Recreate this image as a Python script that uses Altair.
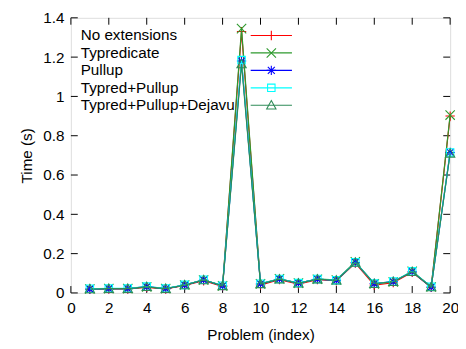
import altair as alt
import pandas as pd

problems = list(range(1, 21))
series_names = ["No extensions", "Typredicate", "Pullup", "Typred+Pullup", "Typred+Pullup+Dejavu"]
no_ext = [0.018, 0.02, 0.02, 0.028, 0.02, 0.038, 0.062, 0.033, 1.33, 0.04, 0.068, 0.045, 0.068, 0.062, 0.152, 0.04, 0.052, 0.105, 0.028, 0.90]
typred = [0.02, 0.022, 0.022, 0.03, 0.022, 0.04, 0.066, 0.036, 1.345, 0.046, 0.072, 0.05, 0.07, 0.066, 0.158, 0.046, 0.056, 0.11, 0.03, 0.905]
pullup = [0.02, 0.022, 0.022, 0.032, 0.022, 0.04, 0.066, 0.036, 1.18, 0.046, 0.07, 0.05, 0.07, 0.064, 0.155, 0.048, 0.058, 0.108, 0.03, 0.715]
typred_pullup = [0.021, 0.023, 0.023, 0.032, 0.023, 0.041, 0.067, 0.037, 1.185, 0.047, 0.071, 0.05, 0.071, 0.065, 0.156, 0.048, 0.058, 0.11, 0.031, 0.715]
typred_pullup_dejavu = [0.02, 0.022, 0.022, 0.031, 0.022, 0.04, 0.066, 0.036, 1.165, 0.046, 0.07, 0.049, 0.07, 0.064, 0.155, 0.047, 0.057, 0.108, 0.03, 0.71]
all_values = [no_ext, typred, pullup, typred_pullup, typred_pullup_dejavu]
colors = ["#ff0000", "#2e9a2e", "#0000ff", "#00ffff", "#2e8b57"]
shapes = [
    "M-1,0H1M0,-1V1",
    "M-1,-1L1,1M-1,1L1,-1",
    "M-1,0H1M0,-1V1M-0.75,-0.75L0.75,0.75M-0.75,0.75L0.75,-0.75",
    "M-0.8,-0.8H0.8V0.8H-0.8Z",
    "M0,-1L1,0.8H-1Z",
]
x_ticks = list(range(0, 21, 2))
y_ticks = [0, 0.2, 0.4, 0.6, 0.8, 1.0, 1.2, 1.4]

W, H = 386, 280
FONT = "Liberation Sans"
FS = 15.5

rows = []
for name, vals in zip(series_names, all_values):
    for p, v in zip(problems, vals):
        rows.append({"problem": p, "time": v, "series": name})
df = pd.DataFrame(rows)

color_scale = alt.Scale(domain=series_names, range=colors)
shape_scale = alt.Scale(domain=series_names, range=shapes)
xs = alt.Scale(domain=[0, 20], nice=False)
ys = alt.Scale(domain=[0, 1.4], nice=False)

AX_X = alt.Axis(values=x_ticks, ticks=False, domain=False, grid=False,
                labelFont=FONT, labelFontSize=FS, labelPadding=8, labelColor="black",
                labelOverlap=False, labelFlush=False,
                titleFont=FONT, titleFontSize=FS, titleFontWeight="normal", titlePadding=12,
                titleColor="black")
AX_Y = alt.Axis(values=y_ticks, format=".1~f", ticks=False, domain=False, grid=False,
                labelFont=FONT, labelFontSize=FS, labelPadding=7, labelColor="black",
                labelOverlap=False, labelFlush=False,
                titleFont=FONT, titleFontSize=FS, titleFontWeight="normal", titlePadding=9,
                titleColor="black")
X = alt.X("problem:Q", scale=xs, axis=AX_X, title="Problem (index)")
Y = alt.Y("time:Q", scale=ys, axis=AX_Y, title="Time (s)")

layers = []

# inward ticks (gnuplot style, mirrored)
ytdf = pd.DataFrame({"time": y_ticks})
xtdf = pd.DataFrame({"problem": x_ticks})
tick_style = dict(color="black", strokeWidth=1)
layers.append(alt.Chart(ytdf).mark_rule(**tick_style).encode(x=alt.value(0), x2=alt.value(7), y=Y))
layers.append(alt.Chart(ytdf).mark_rule(**tick_style).encode(x=alt.value(W - 7), x2=alt.value(W), y=Y))
layers.append(alt.Chart(xtdf).mark_rule(**tick_style).encode(y=alt.value(H), y2=alt.value(H - 7), x=X))
layers.append(alt.Chart(xtdf).mark_rule(**tick_style).encode(y=alt.value(0), y2=alt.value(7), x=X))

for name in series_names:
    sdf = df[df.series == name]
    base = alt.Chart(sdf).encode(
        x=X, y=Y,
        color=alt.Color("series:N", scale=color_scale, legend=None),
    )
    layers.append(base.mark_line(strokeWidth=1.2))
    layers.append(base.mark_point(filled=False, strokeWidth=1.1, size=90, opacity=1).encode(
        shape=alt.Shape("series:N", scale=shape_scale, legend=None)))

main = alt.layer(*layers)

# gnuplot-style legend: label on the left, sample on the right
ldf = pd.DataFrame({"series": series_names, "row": list(range(len(series_names)))})
ly = alt.Y("row:Q", scale=alt.Scale(domain=[0, 4], range=[18, 89]), axis=None)
leg_text = alt.Chart(ldf).mark_text(align="left", baseline="middle", font=FONT, fontSize=FS, color="black").encode(
    x=alt.value(10), y=ly, text="series:N")
leg_line = alt.Chart(ldf).mark_rule(strokeWidth=1.2).encode(
    x=alt.value(183), x2=alt.value(225), y=ly,
    color=alt.Color("series:N", scale=color_scale, legend=None))
leg_pt = alt.Chart(ldf).mark_point(filled=False, strokeWidth=1.1, size=90, opacity=1).encode(
    x=alt.value(204), y=ly,
    color=alt.Color("series:N", scale=color_scale, legend=None),
    shape=alt.Shape("series:N", scale=shape_scale, legend=None))
legend = alt.layer(leg_text, leg_line, leg_pt)

chart = alt.layer(main, legend).resolve_scale(y="independent").properties(
    width=W, height=H,
    padding={"left": 64, "top": 7, "right": 8, "bottom": 50},
    autosize=alt.AutoSizeParams(type="none"),
).configure_view(stroke="black", strokeWidth=1).configure_axis(labelOverlap=False).configure(background="white")

chart.save("out.html", embed_options={"renderer": "svg", "actions": False})
